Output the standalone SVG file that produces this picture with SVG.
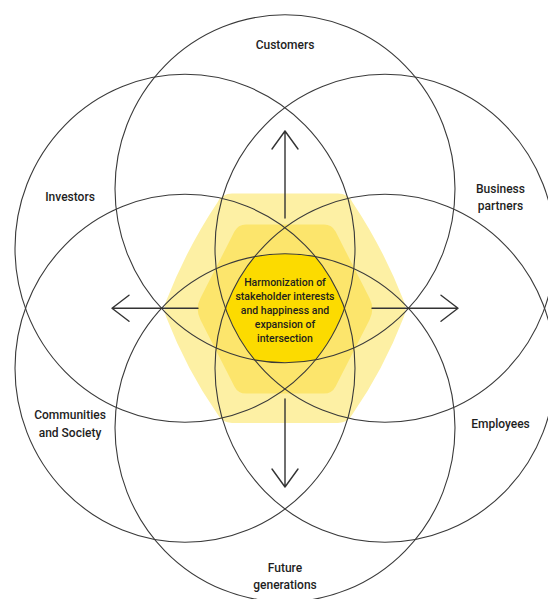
<svg xmlns="http://www.w3.org/2000/svg" width="548" height="599" viewBox="0 0 548 599">
<style>
.ring{fill:none;stroke:#3a3a3a;stroke-width:1.1}
.arrow{fill:none;stroke:#333;stroke-width:1.4;stroke-linecap:round;stroke-linejoin:round}
.lbl{font-family:Roboto,"Liberation Sans",sans-serif;font-weight:500;font-size:12px;fill:#1e1e1e;text-anchor:middle}
.ctr{font-family:Roboto,"Liberation Sans",sans-serif;font-weight:500;font-size:10.5px;fill:#1e1e1e;text-anchor:middle}
</style>
<defs>
<clipPath id="k1"><ellipse cx="285" cy="188.8" rx="170" ry="174"/></clipPath>
<clipPath id="k2"><ellipse cx="185" cy="248.3" rx="170" ry="174"/></clipPath>
<clipPath id="k3"><ellipse cx="385" cy="248.3" rx="170" ry="174"/></clipPath>
<clipPath id="k4"><ellipse cx="185" cy="368.3" rx="170" ry="174"/></clipPath>
<clipPath id="k5"><ellipse cx="385" cy="368.3" rx="170" ry="174"/></clipPath>
<clipPath id="k6"><ellipse cx="285" cy="427.8" rx="170" ry="174"/></clipPath>
</defs>
<rect width="548" height="599" fill="#ffffff"/>
<g id="highlight">
<path fill="#FDF0A4" d="M232,193.5 L338,193.5 Q348,193.5 352.6,202.4 Q383.3,248.5 403.4,300.1 Q408,309 403.4,317.9 Q383.3,369.5 352.6,414.1 Q348,423 338,423 L232,423 Q222,423 217.4,414.1 Q186.7,369.5 166.6,317.9 Q162,309 166.6,300.1 Q186.7,248.5 217.4,202.4 Q222,193.5 232,193.5 Z"/>
<path fill="#FCE56C" d="M246,224.5 L324,224.5 Q332,224.5 335.6,231.6 L369.6,298.3 Q375,309 369.6,319.7 L335.6,386.4 Q332,393.5 324,393.5 L246,393.5 Q238,393.5 234.4,386.4 L200.4,319.7 Q195,309 200.4,298.3 L234.4,231.6 Q238,224.5 246,224.5 Z"/>
<g clip-path="url(#k1)"><g clip-path="url(#k2)"><g clip-path="url(#k3)"><g clip-path="url(#k4)"><g clip-path="url(#k5)"><g clip-path="url(#k6)">
<rect x="150" y="200" width="270" height="220" fill="#FCDB00"/>
</g></g></g></g></g></g>
</g>
<g id="customers"><ellipse class="ring" cx="285" cy="188.8" rx="170" ry="174"/><text class="lbl" x="285" y="49">Customers</text></g>
<g id="investors"><ellipse class="ring" cx="185" cy="248.3" rx="170" ry="174"/><text class="lbl" x="70" y="201">Investors</text></g>
<g id="business-partners"><ellipse class="ring" cx="385" cy="248.3" rx="170" ry="174"/><text class="lbl" x="500.5" y="192.5">Business</text><text class="lbl" x="500.5" y="209.5">partners</text></g>
<g id="communities"><ellipse class="ring" cx="185" cy="368.3" rx="170" ry="174"/><text class="lbl" x="70" y="419">Communities</text><text class="lbl" x="70" y="437">and Society</text></g>
<g id="employees"><ellipse class="ring" cx="385" cy="368.3" rx="170" ry="174"/><text class="lbl" x="500.5" y="428">Employees</text></g>
<g id="future"><ellipse class="ring" cx="285" cy="427.8" rx="170" ry="174"/><text class="lbl" x="285" y="572">Future</text><text class="lbl" x="285" y="588.5">generations</text></g>
<g id="center">
<text class="ctr" x="285" y="285.5">Harmonization of</text>
<text class="ctr" x="285" y="299.7">stakeholder interests</text>
<text class="ctr" x="285" y="313.7">and happiness and</text>
<text class="ctr" x="285" y="327.7">expansion of</text>
<text class="ctr" x="285" y="341.7">intersection</text>
</g>
<g id="connectors">
<path class="arrow" d="M285,218 L285,131 M272,149 L285,131 L298,149"/>
<path class="arrow" d="M285,399 L285,487 M272,469 L285,487 L298,469"/>
<path class="arrow" d="M198,308.3 L112,308.3 M129,295.3 L112,308.3 L129,321.3"/>
<path class="arrow" d="M372,308.3 L458,308.3 M441,295.3 L458,308.3 L441,321.3"/>
</g>
</svg>
